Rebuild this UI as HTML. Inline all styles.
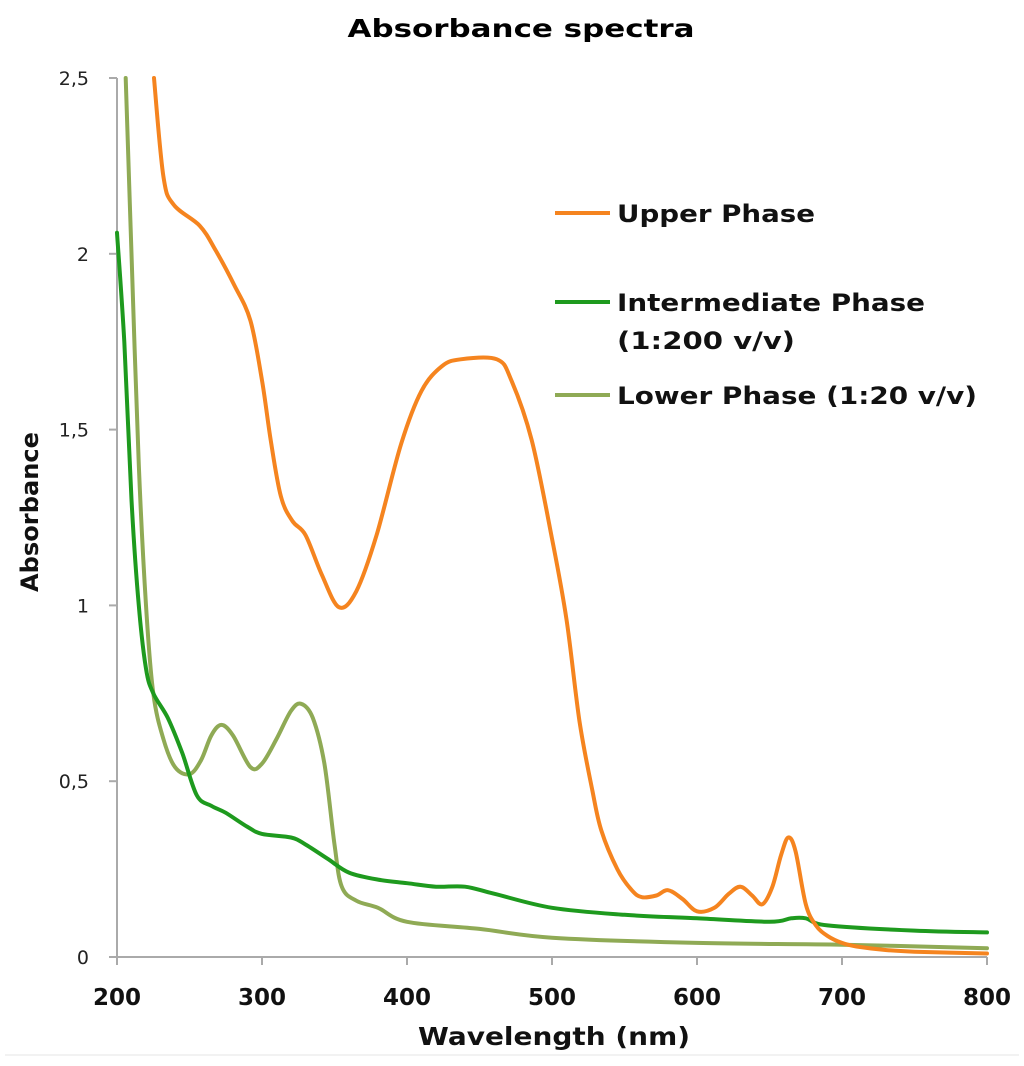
<!DOCTYPE html>
<html><head><meta charset="utf-8"><style>
body{margin:0;background:#fff;}
svg{display:block;font-family:"DejaVu Sans","Liberation Sans",sans-serif;}
</style></head><body>
<svg id="c" width="1024" height="1066"></svg>
<script>
const ticksX=[200,300,400,500,600,700,800];
const ticksY=[0,0.5,1,1.5,2,2.5];
const tickYLabels=["0","0,5","1","1,5","2","2,5"];
const upperX=[225.5,232,239,257,268,281,292,300,306,313,321,330,341,353,365,379,396,410,424,437,462,472,486,500,510,519,528,534,545,555,562,572,580,590,600,612,622,630,638,645,652,658,663,668,675,682,690,700,710,730,750,800];
const upperY=[2.5,2.22,2.14,2.08,2.01,1.91,1.81,1.64,1.47,1.31,1.24,1.20,1.09,0.995,1.04,1.20,1.46,1.61,1.68,1.70,1.70,1.64,1.47,1.19,0.96,0.67,0.47,0.36,0.25,0.19,0.17,0.175,0.19,0.165,0.13,0.14,0.18,0.20,0.175,0.15,0.20,0.29,0.34,0.30,0.15,0.09,0.06,0.04,0.03,0.02,0.015,0.01];
const interX=[200,205,210,215,220,225,235,245,255,265,275,290,300,320,330,345,360,380,400,420,440,460,500,550,600,650,665,675,690,750,800];
const interY=[2.06,1.75,1.30,1.0,0.82,0.75,0.68,0.58,0.46,0.43,0.41,0.37,0.35,0.34,0.32,0.28,0.24,0.22,0.21,0.20,0.20,0.18,0.14,0.12,0.11,0.10,0.11,0.11,0.09,0.075,0.07];
const lowerX=[206,210,215,220,225,232,240,250,258,265,272,280,292,300,310,320,327,335,343,350,355,365,380,400,450,500,600,700,800];
const lowerY=[2.5,2.0,1.4,1.0,0.75,0.62,0.54,0.52,0.56,0.63,0.66,0.63,0.54,0.55,0.62,0.70,0.72,0.68,0.55,0.32,0.20,0.16,0.14,0.10,0.08,0.055,0.04,0.035,0.025];

const NS="http://www.w3.org/2000/svg";
const svg=document.getElementById('c');
const X0=117,X1=987,Y0=957,Y1=78;
const sx=v=>X0+(v-200)/600*(X1-X0);
const sy=v=>Y0-v/2.5*(Y0-Y1);
function mk(t,a,txt){const e=document.createElementNS(NS,t);for(const k in a)e.setAttribute(k,a[k]);if(txt!=null)e.textContent=txt;svg.appendChild(e);return e;}

let e=mk('text',{x:521,y:37,'text-anchor':'middle','font-size':25,'font-weight':'bold',fill:'#000',textLength:347,lengthAdjust:'spacingAndGlyphs'},'Absorbance spectra');


e=mk('line',{x1:X0,y1:Y1,x2:X0,y2:Y0,stroke:'#aaa','stroke-width':2});


e=mk('line',{x1:X0,y1:Y0,x2:X1,y2:Y0,stroke:'#aaa','stroke-width':2});


ticksY.forEach((v,i)=>{
 let t=mk('line',{x1:X0-8,y1:sy(v),x2:X0,y2:sy(v),stroke:'#aaa','stroke-width':2});
 
 
 t=mk('text',{x:89,y:sy(v)+7,'text-anchor':'end','font-size':19,fill:'#222'},tickYLabels[i]);
 
 
});
ticksX.forEach(v=>{
 let t=mk('line',{x1:sx(v),y1:Y0,x2:sx(v),y2:Y0+8,stroke:'#aaa','stroke-width':2});
 
 
 t=mk('text',{x:sx(v),y:1005,'text-anchor':'middle','font-size':23,'font-weight':'bold',fill:'#111'},String(v));
 
 
});
e=mk('text',{x:554,y:1045,'text-anchor':'middle','font-size':25,'font-weight':'bold',fill:'#111',textLength:272,lengthAdjust:'spacingAndGlyphs'},'Wavelength (nm)');


e=mk('text',{x:0,y:0,transform:'translate(38,512) rotate(-90)','text-anchor':'middle','font-size':24,'font-weight':'bold',fill:'#111',textLength:160,lengthAdjust:'spacingAndGlyphs'},'Absorbance');


e=mk('line',{x1:5,y1:1055,x2:1019,y2:1055,stroke:'#eee','stroke-width':1.5});



function series(xs,ys,col,name){
 const P=xs.map((x,i)=>[sx(x),sy(ys[i])]);
 let d='M'+P[0][0].toFixed(1)+' '+P[0][1].toFixed(1);
 for(let i=0;i<P.length-1;i++){
  const p0=P[i-1]||P[i],p1=P[i],p2=P[i+1],p3=P[i+2]||P[i+1];
  const c1=[p1[0]+(p2[0]-p0[0])/6,p1[1]+(p2[1]-p0[1])/6];
  const c2=[p2[0]-(p3[0]-p1[0])/6,p2[1]-(p3[1]-p1[1])/6];
  d+=' C'+c1.map(v=>v.toFixed(1)).join(' ')+' '+c2.map(v=>v.toFixed(1)).join(' ')+' '+p2[0].toFixed(1)+' '+p2[1].toFixed(1);
 }
 const p=mk('path',{d:d,fill:'none',stroke:col,'stroke-width':4,'stroke-linejoin':'round','stroke-linecap':'round'});
 
 
}
series(lowerX,lowerY,'#8faa55','lower-phase-line');
series(interX,interY,'#1e9a1e','intermediate-phase-line');
series(upperX,upperY,'#f5841f','upper-phase-line');

const legend=[['#f5841f',213,[['Upper Phase',198]],'legend-upper-phase'],['#1e9a1e',302,[['Intermediate Phase',308],['(1:200 v/v)',178]],'legend-intermediate-phase'],['#8faa55',395,[['Lower Phase (1:20 v/v)',360]],'legend-lower-phase']];
legend.forEach(l=>{
 let t=mk('line',{x1:555,y1:l[1],x2:610,y2:l[1],stroke:l[0],'stroke-width':4});
 
 
 l[2].forEach((s,j)=>{
  t=mk('text',{x:617,y:l[1]+9+j*38,'font-size':24,'font-weight':'bold',fill:'#111',textLength:s[1],lengthAdjust:'spacingAndGlyphs'},s[0]);
  
  
 });
});
</script>
</body></html>
